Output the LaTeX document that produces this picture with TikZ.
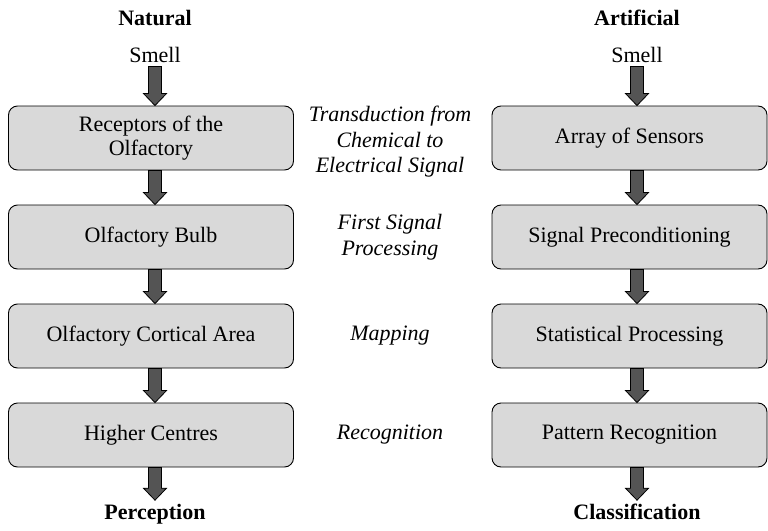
\documentclass[tikz,border=0pt]{standalone}
\usepackage{fontspec}
\setmainfont{Liberation Serif}
\usetikzlibrary{positioning,calc}
\definecolor{boxgray}{gray}{0.85}
\definecolor{arrgray}{gray}{0.33}

\begin{document}
\begin{tikzpicture}[x=1pt,y=-1pt,line width=0.9pt,
  every node/.style={font=\fontsize{22}{24}\selectfont},
  stage/.style={draw,fill=boxgray,rounded corners=9pt,minimum height=64pt,
    align=center,inner sep=0pt},
  func/.style={align=center,font=\fontsize{22}{25.5}\selectfont\itshape},
  title/.style={font=\fontsize{22}{24}\selectfont\bfseries,text height=15pt,text depth=5pt},
  feed/.style={draw,fill=arrgray,line width=0.8pt,to path={
    let \p1=(\tikztostart), \p2=(\tikztotarget) in
    (\x1-6.5pt,\y1) -- (\x1+6.5pt,\y1) -- (\x1+6.5pt,\y2+12pt)
    -- (\x1+11.5pt,\y2+12pt) -- (\x1,\y2) -- (\x1-11.5pt,\y2+12pt)
    -- (\x1-6.5pt,\y2+12pt) -- cycle}}]
\useasboundingbox (0,0) rectangle (768,530);
% ---------- natural ----------
\node[title] (natT) at (155,20) {Natural};
\node (natS) at (155,55) {Smell};
\node[stage,minimum width=285pt] (rec) at (151,138) {Receptors of the\\Olfactory};
\node[stage,minimum width=285pt] (bulb) at (151,237) {Olfactory Bulb};
\node[stage,minimum width=285pt] (cort) at (151,336) {Olfactory Cortical Area};
\node[stage,minimum width=285pt] (high) at (151,435) {Higher Centres};
\node[title] (perc) at (155,514) {Perception};
% ---------- artificial ----------
\node[title] (artT) at (637,20) {Artificial};
\node (artS) at (637,55) {Smell};
\node[stage,minimum width=275pt] (sens) at (629.5,138) {Array of Sensors};
\node[stage,minimum width=275pt] (prec) at (629.5,237) {Signal Preconditioning};
\node[stage,minimum width=275pt] (stat) at (629.5,336) {Statistical Processing};
\node[stage,minimum width=275pt] (patt) at (629.5,435) {Pattern Recognition};
\node[title] (clas) at (637,514) {Classification};
% ---------- functions ----------
\node[func] (fTra) at (390,142) {Transduction from\\Chemical to\\Electrical Signal};
\node[func] (fFir) at (390,237) {First Signal\\Processing};
\node[func] (fMap) at (390,336) {Mapping};
\node[func] (fRec) at (390,435) {Recognition};
% ---------- arrows ----------
\draw[feed] (natS.south) to (rec.north -| natS);
\draw[feed] (rec.south -| natS) to (bulb.north -| natS);
\draw[feed] (bulb.south -| natS) to (cort.north -| natS);
\draw[feed] (cort.south -| natS) to (high.north -| natS);
\draw[feed] (high.south -| natS) to (perc.north);
\draw[feed] (artS.south) to (sens.north -| artS);
\draw[feed] (sens.south -| artS) to (prec.north -| artS);
\draw[feed] (prec.south -| artS) to (stat.north -| artS);
\draw[feed] (stat.south -| artS) to (patt.north -| artS);
\draw[feed] (patt.south -| artS) to (clas.north);
\end{tikzpicture}
\end{document}
